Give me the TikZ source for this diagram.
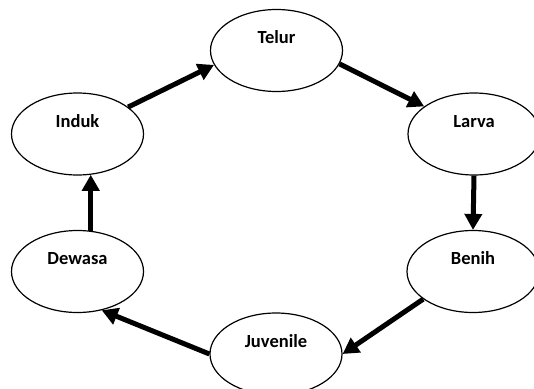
\documentclass[tikz,border=0pt]{standalone}
\usepackage{fontspec}
\setmainfont{Carlito}
\usepackage{tikz}
\usetikzlibrary{positioning,arrows.meta,calc,shapes.geometric}

\begin{document}
\begin{tikzpicture}[x=1pt, y=-1pt,
		font=\bfseries\fontsize{18.5}{21}\selectfont,
		stage/.style={draw, ellipse, line width=1.2pt, inner sep=0pt,
			minimum width=132pt, minimum height=82pt,
			text height=13pt, text depth=27pt},
		flow/.style={line width=5pt, -{Triangle[length=16pt,width=17pt]}}]
		\useasboundingbox (0,0) rectangle (534,388);
		% stages
		\node[stage] (telur)    at (276.5,50.5) {Telur};
		\node[stage] (larva)    at (474,134)    {Larva};
		\node[stage] (benih)    at (473,271.5)  {Benih};
		\node[stage] (juvenile) at (276,354)    {Juvenile};
		\node[stage] (dewasa)   at (77.5,271.5) {Dewasa};
		\node[stage] (induk)    at (77.5,134)   {Induk};
		% cycle
		\draw[flow] (induk.28)    -- (telur.193);
		\draw[flow] (telur.348)   -- (larva.151);
		\draw[flow] (larva.south) -- (benih.north);
		\draw[flow] (benih.209)   -- (juvenile.east);
		\draw[flow] (juvenile.west) -- (dewasa.302);
		\draw[flow] (dewasa.72)   -- (induk.288);
	\end{tikzpicture}
\end{document}
